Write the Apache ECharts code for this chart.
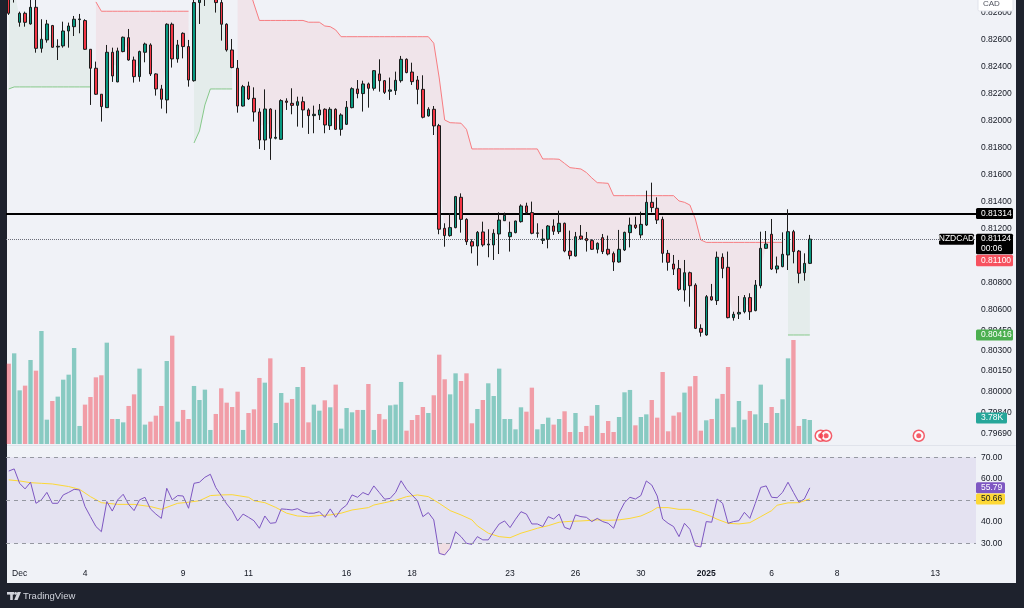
<!DOCTYPE html>
<html><head><meta charset="utf-8">
<script src="https://cdn.jsdelivr.net/npm/echarts@6/dist/echarts.min.js"></script>
<style>html,body{margin:0;padding:0;background:#1e222d;}#c{width:1024px;height:608px;}</style>
</head><body><div id="c"></div>
<script>
const _ = null;
const N_SLOTS = 178;
const dayLabels = {2:'Dec',14:'4',32:'9',44:'11',62:'16',74:'18',92:'23',104:'26',116:'30',128:'2025',140:'6',152:'8',170:'13'};

// [open, close, low, high] for 4H NZDCAD candles
const candles = [
[0.82964,0.82792,0.82780,0.83001],[0.82915,0.83013,0.82871,0.83038],[0.82725,0.82792,0.82693,0.82804],[0.82792,0.82725,0.82693,0.82804],
[0.82713,0.82836,0.82708,0.82890],[0.82836,0.82533,0.82501,0.82890],[0.82533,0.82600,0.82501,0.82748],[0.82595,0.82713,0.82575,0.82743],
[0.82701,0.82541,0.82538,0.82706],[0.82543,0.82548,0.82447,0.82600],[0.82551,0.82661,0.82538,0.82730],[0.82661,0.82698,0.82538,0.82723],
[0.82693,0.82748,0.82624,0.82772],[0.82745,0.82750,0.82644,0.82787],[0.82738,0.82526,0.82521,0.82748],[0.82526,0.82386,0.82115,0.82526],
[0.82386,0.82194,0.82189,0.82435],[0.82194,0.82103,0.81992,0.82194],[0.82095,0.82504,0.82093,0.82558],[0.82504,0.82329,0.82285,0.82538],
[0.82285,0.82514,0.82283,0.82538],[0.82509,0.82615,0.82504,0.82620],[0.82612,0.82447,0.82442,0.82676],[0.82447,0.82324,0.82280,0.82472],
[0.82324,0.82509,0.82287,0.82516],[0.82504,0.82565,0.82430,0.82575],[0.82558,0.82344,0.82329,0.82570],[0.82344,0.82233,0.82184,0.82349],
[0.82233,0.82157,0.82088,0.82263],[0.82152,0.82711,0.82053,0.82718],[0.82711,0.82455,0.82391,0.82723],[0.82455,0.82558,0.82427,0.82595],
[0.82644,0.82546,0.82459,0.82651],[0.82546,0.82299,0.82250,0.82595],[0.82294,0.82871,0.82287,0.82895],[0.82871,0.82964,0.82713,0.82976],
[0.82964,0.83038,0.82846,0.83063],[0.82989,0.83063,0.82940,0.83087],[0.82964,0.82871,0.82797,0.82989],[0.82871,0.82711,0.82590,0.82890],
[0.82711,0.82521,0.82509,0.82718],[0.82521,0.82391,0.82386,0.82602],[0.82386,0.82107,0.82058,0.82447],[0.82107,0.82250,0.82103,0.82263],
[0.82255,0.82159,0.82152,0.82287],[0.82164,0.82063,0.81992,0.82245],[0.82063,0.81856,0.81790,0.82090],[0.81856,0.82085,0.81782,0.82230],
[0.82085,0.81869,0.81709,0.82090],[0.81869,0.81876,0.81861,0.82079],[0.81861,0.82147,0.81856,0.82157],[0.82144,0.82134,0.82078,0.82164],
[0.82127,0.82112,0.82046,0.82238],[0.82112,0.82139,0.81955,0.82176],[0.82139,0.82078,0.81947,0.82176],[0.82078,0.82036,0.81901,0.82090],
[0.82036,0.82046,0.81906,0.82110],[0.82041,0.82078,0.82004,0.82122],[0.82083,0.81967,0.81906,0.82090],[0.81962,0.82083,0.81930,0.82098],
[0.82083,0.81935,0.81930,0.82090],[0.81935,0.82041,0.81888,0.82053],[0.81972,0.82098,0.81967,0.82144],[0.82095,0.82235,0.82090,0.82245],
[0.82233,0.82199,0.82164,0.82299],[0.82199,0.82270,0.82066,0.82294],[0.82270,0.82238,0.82095,0.82280],[0.82238,0.82368,0.82221,0.82373],
[0.82344,0.82294,0.82213,0.82452],[0.82294,0.82208,0.82196,0.82299],[0.82216,0.82226,0.82152,0.82317],[0.82221,0.82297,0.82189,0.82361],
[0.82294,0.82452,0.82280,0.82477],[0.82452,0.82354,0.82349,0.82459],[0.82358,0.82287,0.82263,0.82427],[0.82299,0.82230,0.82120,0.82329],
[0.82230,0.82024,0.82016,0.82334],[0.82034,0.82083,0.82029,0.82098],[0.82083,0.81960,0.81893,0.82107],[0.81962,0.81197,0.81160,0.81975],
[0.81204,0.81150,0.81068,0.81241],[0.81150,0.81209,0.81142,0.81315],[0.81209,0.81438,0.81204,0.81443],[0.81433,0.81270,0.81172,0.81462],
[0.81270,0.81105,0.81081,0.81278],[0.81105,0.81073,0.81019,0.81123],[0.81073,0.81174,0.80928,0.81184],[0.81177,0.81081,0.81068,0.81253],
[0.81081,0.81088,0.80990,0.81197],[0.81081,0.81167,0.80970,0.81197],[0.81162,0.81265,0.81014,0.81322],[0.81260,0.81300,0.81258,0.81320],
[0.81142,0.81174,0.81032,0.81253],[0.81172,0.81258,0.81167,0.81260],[0.81253,0.81369,0.81246,0.81381],[0.81369,0.81320,0.81307,0.81393],
[0.81320,0.81167,0.81160,0.81401],[0.81167,0.81170,0.81135,0.81241],[0.81115,0.81125,0.81088,0.81197],[0.81123,0.81221,0.81056,0.81228],
[0.81221,0.81182,0.81155,0.81270],[0.81179,0.81241,0.81162,0.81334],[0.81241,0.81036,0.81027,0.81246],[0.81036,0.81002,0.80975,0.81187],
[0.80999,0.81142,0.80995,0.81177],[0.81147,0.81125,0.81118,0.81228],[0.81128,0.81113,0.81032,0.81177],[0.81113,0.81049,0.81044,0.81123],
[0.81049,0.81093,0.81019,0.81100],[0.81135,0.81032,0.81014,0.81162],[0.81049,0.81014,0.81004,0.81150],[0.81017,0.80955,0.80889,0.81032],
[0.80955,0.81049,0.80950,0.81192],[0.81044,0.81174,0.81036,0.81179],[0.81172,0.81228,0.81063,0.81283],[0.81228,0.81209,0.81199,0.81290],
[0.81155,0.81233,0.81130,0.81327],[0.81228,0.81396,0.81221,0.81482],[0.81396,0.81357,0.81322,0.81541],[0.81352,0.81265,0.81236,0.81433],
[0.81270,0.81019,0.80950,0.81290],[0.81019,0.80953,0.80891,0.81044],[0.80940,0.80903,0.80859,0.81007],[0.80906,0.80753,0.80741,0.80970],
[0.80748,0.80876,0.80662,0.80970],[0.80876,0.80780,0.80625,0.80884],[0.80785,0.80465,0.80460,0.80798],[0.80465,0.80436,0.80404,0.80495],
[0.80416,0.80699,0.80411,0.80711],[0.80699,0.80675,0.80670,0.80793],[0.80670,0.80990,0.80638,0.81032],[0.80990,0.80908,0.80835,0.81019],
[0.80916,0.80544,0.80539,0.81032],[0.80544,0.80569,0.80522,0.80588],[0.80571,0.80583,0.80534,0.80704],[0.80588,0.80692,0.80576,0.80711],
[0.80692,0.80588,0.80527,0.80724],[0.80596,0.80785,0.80591,0.80822],[0.80780,0.81056,0.80761,0.81179],[0.81056,0.81088,0.81051,0.81184],
[0.81160,0.80903,0.80896,0.81273],[0.80903,0.80926,0.80872,0.80995],[0.80921,0.81012,0.80916,0.81174],[0.81007,0.81179,0.80896,0.81344],
[0.81179,0.81032,0.80945,0.81192],[0.81036,0.80872,0.80798,0.81044],[0.80876,0.80945,0.80817,0.81019],[0.80945,0.81124,0.80940,0.81155]
];

// volume in thousands
const volumeK = [
12.65,14.28,8.45,9.19,13.23,11.55,17.80,3.83,6.77,7.46,
10.13,10.92,15.12,2.84,6.20,7.40,10.50,10.82,15.96,3.94,
3.94,3.41,5.99,7.82,11.87,3.05,3.52,4.46,5.99,13.07,
17.06,3.52,5.36,3.94,9.14,6.93,8.56,2.21,4.73,8.77,
6.51,5.83,8.24,2.21,4.88,5.46,10.40,9.66,13.49,3.31,
8.03,6.51,7.09,8.98,12.13,3.41,6.20,5.25,6.88,5.78,
9.35,2.42,5.67,4.99,5.36,5.36,9.45,2.21,4.73,3.89,
6.09,6.20,9.77,2.10,3.78,4.57,5.83,4.88,7.67,14.07,
10.19,7.82,11.13,9.92,11.13,3.26,5.51,6.93,9.56,7.56,
11.87,3.94,3.94,2.31,5.78,5.09,8.87,2.31,3.15,4.15,
3.05,3.94,5.15,1.89,4.88,1.89,2.84,4.46,6.14,1.73,
3.62,1.89,4.25,8.14,8.51,2.94,4.25,4.67,6.93,4.15,
11.34,2.00,4.46,4.99,8.09,9.08,10.71,2.10,3.73,3.94,
7.14,7.88,12.13,2.63,6.77,3.83,5.20,4.67,9.35,3.31,
5.83,4.88,7.04,13.49,16.38,2.84,3.94,3.78
];

// Supertrend, down-trend (red) line
const superDown = [
_,_,_,_,_,_,_,_,_,_,
_,_,_,_,_,_,0.82876,0.82807,0.82807,0.82807,
0.82807,0.82807,0.82807,0.82807,0.82807,0.82807,0.82807,0.82807,0.82807,0.82807,
0.82807,0.82807,0.82807,0.82807,_,_,_,_,_,_,
_,_,0.83060,0.83030,0.82990,0.82861,0.82739,0.82739,0.82739,0.82739,
0.82739,0.82739,0.82739,0.82739,0.82739,0.82726,0.82726,0.82726,0.82698,0.82693,
0.82669,0.82619,0.82619,0.82619,0.82619,0.82619,0.82619,0.82619,0.82619,0.82619,
0.82619,0.82619,0.82619,0.82619,0.82619,0.82619,0.82619,0.82619,0.82571,0.82314,
0.82004,0.81984,0.81982,0.81980,0.81935,0.81790,0.81790,0.81790,0.81790,0.81790,
0.81790,0.81790,0.81790,0.81790,0.81790,0.81790,0.81790,0.81790,0.81716,0.81716,
0.81716,0.81714,0.81683,0.81652,0.81647,0.81642,0.81616,0.81576,0.81541,0.81539,
0.81536,0.81445,0.81445,0.81445,0.81445,0.81445,0.81445,0.81445,0.81445,0.81445,
0.81445,0.81445,0.81445,0.81406,0.81396,0.81376,0.81273,0.81118,0.81100,0.81100,
0.81100,0.81100,0.81100,0.81100,0.81100,0.81100,0.81100,0.81100,0.81100,0.81100,
0.81100,0.81100,0.81100,_,_,_,_,_
];
// Supertrend, up-trend (green) line
const superUp = [
0.82233,0.82248,0.82248,0.82248,0.82248,0.82248,0.82248,0.82248,0.82248,0.82248,
0.82248,0.82248,0.82248,0.82248,0.82248,0.82248,_,_,_,_,
_,_,_,_,_,_,_,_,_,_,
_,_,_,_,0.81834,0.81923,0.82115,0.82233,0.82233,0.82233,
0.82233,0.82233,_,_,_,_,_,_,_,_,
_,_,_,_,_,_,_,_,_,_,
_,_,_,_,_,_,_,_,_,_,
_,_,_,_,_,_,_,_,_,_,
_,_,_,_,_,_,_,_,_,_,
_,_,_,_,_,_,_,_,_,_,
_,_,_,_,_,_,_,_,_,_,
_,_,_,_,_,_,_,_,_,_,
_,_,_,_,_,_,_,_,_,_,
_,_,_,_,_,_,_,_,_,_,
_,_,_,0.80416,0.80416,0.80416,0.80416,0.80416
];

const rsi = [
63.6,64.6,57.9,55.3,58.4,48.6,50.2,53.7,48.6,48.6,
52.5,53.7,55.1,54.8,47.1,42.4,37.8,35.4,49.4,45.0,
50.2,52.8,48.1,45.2,50.2,51.4,46.0,43.6,41.6,55.6,
50.2,52.2,52.0,46.3,57.9,58.4,60.7,62.1,55.9,52.2,
48.3,45.2,40.4,43.6,42.1,40.5,37.0,42.7,39.3,39.6,
46.0,45.8,45.5,46.1,44.7,44.0,44.0,44.7,42.1,46.0,
42.1,45.8,47.8,52.5,51.4,53.6,52.5,56.7,53.6,50.5,
50.9,53.7,59.1,55.1,52.5,49.8,42.4,44.3,40.9,25.3,
24.6,27.7,35.4,33.1,30.0,29.5,33.1,31.6,31.6,35.4,
39.0,40.4,37.3,41.2,44.7,43.6,39.0,39.0,37.8,42.4,
41.3,43.6,37.4,36.5,43.2,42.4,42.1,40.1,41.6,40.1,
39.3,37.0,44.0,48.9,51.4,50.6,52.2,59.0,57.1,52.0,
41.3,39.3,37.8,33.1,39.3,36.5,28.8,28.3,40.1,39.8,
50.6,48.6,39.3,40.1,40.5,44.4,41.6,48.6,56.0,56.7,
51.4,51.2,53.7,58.4,53.7,49.1,50.6,55.79
];
// RSI moving average, read at [slot, value]
const rsiMA = [
[0,59.5],[2,59.0],[4,58.2],[6,57.9],[8,57.6],[11,56.4],[13,55.1],[15,51.7],[17,48.9],[20,48.1],
[23,48.1],[26,47.1],[28,45.8],[31,48.6],[33,49.1],[35,49.8],[37,52.2],[39,52.5],[41,52.6],[44,51.4],
[45,49.8],[47,48.9],[49,46.7],[51,44.0],[53,42.7],[55,42.4],[57,42.9],[59,43.2],[61,44.0],[63,45.5],
[66,46.6],[67,47.8],[69,48.9],[71,50.0],[73,51.7],[75,52.5],[77,51.7],[79,48.6],[81,45.2],[83,43.2],
[85,40.9],[86,38.1],[88,34.7],[90,33.1],[92,32.6],[94,34.7],[96,36.2],[97,37.0],[99,38.2],[101,39.8],
[103,40.2],[105,40.4],[107,40.7],[108,40.9],[110,40.7],[112,40.9],[114,41.6],[116,42.7],[118,45.0],[119,46.6],
[121,46.6],[123,45.8],[125,45.8],[127,44.3],[129,42.4],[130,41.2],[132,39.3],[134,39.0],[136,39.6],[138,42.4],
[140,45.2],[141,47.7],[143,48.8],[145,48.9],[147,50.66]
];

const priceTicks = [0.7969,0.7984,0.8000,0.8015,0.8030,0.8045,0.806,0.808,0.812,0.814,0.816,0.818,0.820,0.822,0.824,0.826,0.828];
const rsiTicks = [30,40,60,70];
const hLevel = 0.81314;
const lastPrice = 0.81124;
const countdown = '00:06';
const superDownLast = 0.81100;
const superUpLast = 0.80416;
const lastVolume = 3.78;
const lastRsi = 55.79, lastRsiMA = 50.66;
const eventSlots = [149,150,167];

// ---------- build ----------
const GL = 6, GW = 970, GR = GL + GW;
const FONT = 'Liberation Sans';
const categories = Array.from({length:N_SLOTS},(v,i)=> dayLabels[i] !== undefined ? dayLabels[i] : ('t'+i));
const mid = candles.map(c => (c[0]+c[1])/2);
const redBase = superDown.map((v,i)=> v===null?null:mid[i]);
const redFill = superDown.map((v,i)=> v===null?null:Math.max(0, v-mid[i]));
const greenBase = superUp.map(v=> v);
const greenFill = superUp.map((v,i)=> v===null?null:Math.max(0, mid[i]-v));
const volData = volumeK.map((v,i)=>({value:v, itemStyle:{color: candles[i][1]>=candles[i][0] ? 'rgba(8,153,129,0.45)' : 'rgba(242,54,69,0.45)'}}));
const osBase = rsi.map(v=> v<30 ? v : null);
const osFill = rsi.map(v=> v<30 ? 30-v : null);

const chart = echarts.init(document.getElementById('c'), null, {width:1024, height:608});
const hiddenX = (g)=>({type:'category', gridIndex:g, data:categories, boundaryGap:true, show:false});
const option = {
  animation:false,
  backgroundColor:'#1e222d',
  grid:[
    {left:GL, width:GW, top:0, height:444},
    {left:GL, width:GW, top:324, height:120},
    {left:GL, width:GW, top:447, height:116}
  ],
  xAxis:[hiddenX(0), hiddenX(1), {
    type:'category', gridIndex:2, data:categories, boundaryGap:true,
    axisLine:{show:false}, axisTick:{show:false}, splitLine:{show:false},
    axisLabel:{interval:0, margin:6, color:'#131722', fontSize:8.5, fontFamily:FONT,
      formatter:(v)=> v.charAt(0)==='t' ? '' : (v==='2025' ? '{b|2025}' : v),
      rich:{b:{fontWeight:'bold', fontSize:8.5, fontFamily:FONT, color:'#131722'}}}
  }],
  yAxis:[
    {type:'value', gridIndex:0, position:'right', min:0.79611, max:0.82890, scale:true,
     axisLine:{show:false}, axisTick:{show:false}, splitLine:{show:false},
     axisLabel:{customValues:priceTicks, margin:5, color:'#131722', fontSize:8.5, fontFamily:FONT, formatter:v=>v.toFixed(5)}},
    {type:'value', gridIndex:1, min:0, max:18.9, show:false},
    {type:'value', gridIndex:2, position:'right', min:20.84, max:74.79,
     axisLine:{show:false}, axisTick:{show:false}, splitLine:{show:false},
     axisLabel:{customValues:rsiTicks, margin:5, color:'#131722', fontSize:8.5, fontFamily:FONT, formatter:v=>v.toFixed(2)}}
  ],
  series:[
    {type:'bar', name:'vol', xAxisIndex:1, yAxisIndex:1, data:volData, barWidth:'80%', z:1, silent:true},
    {type:'scatter', xAxisIndex:1, yAxisIndex:1, data:eventSlots.map(s=>[s,1.3]), symbol:'circle', symbolSize:11, z:6,
     itemStyle:{color:'#ffffff', borderColor:'#f23645', borderWidth:1.5}, silent:true},
    {type:'scatter', xAxisIndex:1, yAxisIndex:1, data:eventSlots.map(s=>[s,1.3]), symbol:'circle', symbolSize:5, z:7,
     itemStyle:{color:'#f23645'}, silent:true},
    {type:'line', xAxisIndex:0, yAxisIndex:0, data:redBase, stack:'dn', symbol:'none', lineStyle:{opacity:0}, z:2, silent:true},
    {type:'line', xAxisIndex:0, yAxisIndex:0, data:redFill, stack:'dn', symbol:'none', lineStyle:{opacity:0},
     areaStyle:{color:'rgba(242,54,69,0.1)'}, z:2, silent:true},
    {type:'line', xAxisIndex:0, yAxisIndex:0, data:greenBase, stack:'up', symbol:'none', lineStyle:{opacity:0}, z:2, silent:true},
    {type:'line', xAxisIndex:0, yAxisIndex:0, data:greenFill, stack:'up', symbol:'none', lineStyle:{opacity:0},
     areaStyle:{color:'rgba(76,175,80,0.1)'}, z:2, silent:true},
    {type:'line', xAxisIndex:0, yAxisIndex:0, data:superDown, symbol:'none', lineStyle:{color:'#f77c80', width:1}, z:3, silent:true},
    {type:'line', xAxisIndex:0, yAxisIndex:0, data:superUp, symbol:'none', lineStyle:{color:'#86c98a', width:1}, z:3, silent:true},
    {type:'candlestick', xAxisIndex:0, yAxisIndex:0, data:candles, barWidth:3, z:5, silent:true,
     itemStyle:{color:'#089981', color0:'#f23645', borderColor:'#1c1c1c', borderColor0:'#1c1c1c', borderWidth:1}},
    {type:'line', xAxisIndex:0, yAxisIndex:0, data:[], symbol:'none', z:6, silent:true,
     markLine:{silent:true, symbol:'none', precision:5, label:{show:false}, animation:false,
       data:[
         {yAxis:lastPrice, lineStyle:{color:'#6a6d78', width:1, type:'dotted'}},
         {yAxis:hLevel, lineStyle:{color:'#000000', width:2, type:'solid'}}
       ]}},
    {type:'line', xAxisIndex:2, yAxisIndex:2, data:osBase, stack:'os', symbol:'none', lineStyle:{opacity:0}, z:2, silent:true},
    {type:'line', xAxisIndex:2, yAxisIndex:2, data:osFill, stack:'os', symbol:'none', lineStyle:{opacity:0},
     areaStyle:{color:'rgba(242,54,69,0.15)'}, z:2, silent:true},
    {type:'line', xAxisIndex:2, yAxisIndex:2, data:rsi, symbol:'none', lineStyle:{color:'#7e57c2', width:1}, z:4, silent:true,
     markArea:{silent:true, itemStyle:{color:'rgba(126,87,194,0.1)'}, data:[[{yAxis:30},{yAxis:70}]]},
     markLine:{silent:true, symbol:'none', precision:2, label:{show:false}, lineStyle:{color:'#9598a1', width:1, type:[4,4]},
       data:[{yAxis:70},{yAxis:50},{yAxis:30}]}},
    {type:'line', xAxisIndex:2, yAxisIndex:2, data:rsiMA, symbol:'none', lineStyle:{color:'#fdd835', width:1}, z:3, silent:true}
  ]
};
chart.setOption(option);

const yP = (i,v)=> chart.convertToPixel({yAxisIndex:i}, v);
function txt(t, x, y, fill, align, size, weight){
  return {type:'text', z:101, style:{text:t, x:x, y:y, fill:fill, fontSize:size||8.5, fontFamily:FONT, fontWeight:weight||'normal',
    align:align||'left', verticalAlign:'middle', textAlign:align||'left', textVerticalAlign:'middle'}};
}
function rect(x,y,w,h,fill,z,stroke){
  return {type:'rect', z:z||100, shape:{x:x,y:y,width:w,height:h,r:1.5}, style:{fill:fill, stroke:stroke||null, lineWidth:stroke?1:0}};
}
const TX = GR + 5;
const g = [];
g.push({type:'rect', z:-10, shape:{x:7,y:0,width:1009,height:583}, style:{fill:'#f0f2f7'}});
g.push({type:'line', z:-9, shape:{x1:7,y1:445.5,x2:1016,y2:445.5}, style:{stroke:'#e0e3eb', lineWidth:1}});
let y = yP(0,hLevel);
g.push(rect(GR, y-5.5, 37, 11, '#000000'));
g.push(txt(hLevel.toFixed(5), TX, y, '#ffffff'));
y = yP(0,lastPrice);
g.push(rect(GR-37, y-5.5, 35, 11, '#000000'));
g.push(txt('NZDCAD', GR-19.5, y, '#ffffff', 'center'));
g.push(rect(GR, y-5.5, 37, 20.5, '#000000'));
g.push(txt(lastPrice.toFixed(5), TX, y, '#ffffff'));
g.push(txt(countdown, TX, y+9.5, '#ffffff'));
const yd = y + 15.5;
g.push(rect(GR, yd, 37, 11.5, '#f7525f'));
g.push(txt(superDownLast.toFixed(5), TX, yd+5.75, '#ffffff'));
y = yP(0,superUpLast);
g.push(rect(GR, y-5.5, 37, 11, '#4caf50'));
g.push(txt(superUpLast.toFixed(5), TX, y, '#ffffff'));
y = yP(1,lastVolume) - 2;
g.push(rect(GR, y-5.5, 31, 11, '#26a69a'));
g.push(txt(lastVolume.toFixed(2)+'K', TX, y, '#ffffff'));
y = yP(2,lastRsi);
g.push(rect(GR, y-5.5, 29, 11, '#7e57c2'));
g.push(txt(lastRsi.toFixed(2), TX, y, '#ffffff'));
y = yP(2,lastRsiMA);
g.push(rect(GR, y-5.5, 29, 11, '#fdd835'));
g.push(txt(lastRsiMA.toFixed(2), TX, y, '#131722'));
g.push(rect(978, -3, 35, 14, '#ffffff', 100, '#e0e3eb'));
g.push(txt('CAD', 983, 4, '#50535e', 'left', 8));
g.push({type:'rect', z:101, shape:{x:7,y:592,width:7,height:2.6}, style:{fill:'#d1d4dc'}});
g.push({type:'rect', z:101, shape:{x:10.2,y:592,width:2.6,height:8}, style:{fill:'#d1d4dc'}});
g.push({type:'circle', z:101, shape:{cx:15.6,cy:593.4,r:1.4}, style:{fill:'#d1d4dc'}});
g.push({type:'polygon', z:101, shape:{points:[[17.5,592],[21,592],[17.6,600],[14.2,600]]}, style:{fill:'#d1d4dc'}});
g.push(txt('TradingView', 23, 596.5, '#d1d4dc', 'left', 9.5));
chart.setOption({graphic:g});
</script></body></html>
